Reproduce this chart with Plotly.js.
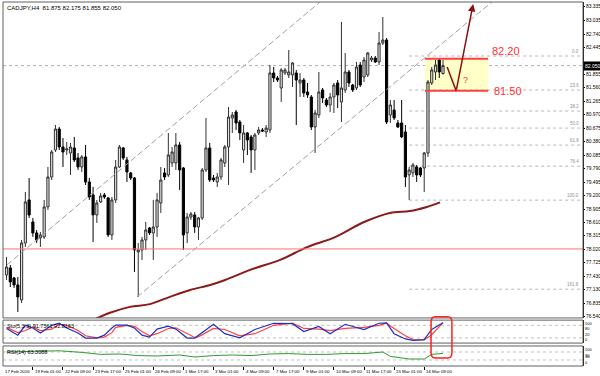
<!DOCTYPE html>
<html><head><meta charset="utf-8">
<script src="https://cdn.plot.ly/plotly-3.0.1.min.js"></script>
<style>html,body{margin:0;padding:0;background:#fff}#chart{width:600px;height:376px}</style>
</head><body><div id="chart"></div>
<script>
// ---- data ----
const openP = [77.460,77.613,77.394,77.241,76.912,78.161,79.104,78.622,78.381,78.271,
78.293,78.951,79.608,80.200,80.660,80.266,80.200,80.134,80.244,80.025,
79.827,80.047,79.499,79.214,78.775,79.060,79.214,79.148,78.337,79.104,
79.827,80.244,79.981,79.696,79.586,77.964,78.008,78.227,78.490,78.381,
78.512,79.038,79.696,79.652,79.915,79.915,80.310,79.805,78.381,78.731,
78.775,78.512,78.709,79.762,80.244,79.586,79.499,79.608,79.915,80.266,
80.901,81.033,80.814,80.200,80.573,80.485,80.200,80.573,80.638,80.594,
80.638,81.888,81.778,81.559,81.888,81.844,81.844,81.888,81.669,81.734,
81.471,81.362,80.704,80.967,81.515,81.296,81.186,81.362,81.669,81.252,
81.515,81.910,81.625,81.559,82.063,81.800,81.844,82.173,82.217,82.129,
82.545,82.611,80.967,81.077,80.792,80.792,80.594,79.652,79.696,79.827,
79.805,79.805,80.134,81.669,81.910,82.173,81.875];
const highP = [77.855,77.679,77.416,77.416,78.227,79.279,79.586,78.709,78.446,78.403,
79.104,79.827,80.200,80.748,80.704,80.463,80.375,80.353,80.485,80.134,
80.090,80.310,79.586,79.389,79.104,79.258,79.258,79.170,79.170,79.981,
80.310,80.266,80.047,79.718,79.608,78.161,78.293,78.622,78.512,79.104,
79.258,79.827,79.805,80.573,80.266,80.573,80.375,79.827,78.819,78.841,
78.841,78.731,79.805,80.901,80.353,79.652,79.696,80.025,80.310,81.142,
81.033,81.077,80.858,80.748,80.594,80.529,80.573,80.704,80.682,80.748,
82.063,82.019,81.822,81.997,81.997,82.392,82.129,81.954,81.888,81.778,
81.669,81.406,81.077,81.910,81.559,81.340,81.450,81.669,81.734,83.006,
82.326,81.954,81.647,82.129,82.129,82.239,82.348,82.260,82.260,82.787,
83.115,82.655,81.296,81.296,80.858,81.296,80.748,79.827,79.915,79.871,
79.827,80.156,81.734,82.019,82.173,82.217,82.175];
const lowP = [77.350,77.197,77.175,76.649,76.846,78.074,78.709,78.293,78.161,78.074,
78.249,78.885,79.542,80.156,80.200,79.827,80.090,79.652,79.937,79.762,
79.718,79.433,79.104,78.183,78.600,79.038,79.126,78.293,78.227,79.038,
79.805,79.981,79.499,79.542,77.526,76.978,77.789,78.008,78.337,77.789,
78.293,78.819,79.542,79.608,79.827,79.762,79.323,78.008,78.161,78.666,
78.381,78.227,78.666,79.718,79.499,79.499,79.389,79.542,79.827,79.433,
80.573,80.638,80.419,79.915,80.090,79.696,79.762,80.529,80.594,80.485,
80.573,81.691,81.691,81.252,81.844,81.778,81.581,80.748,81.362,81.362,
81.340,80.638,80.134,80.901,81.230,81.142,81.033,81.011,81.121,80.814,
81.450,81.581,81.471,81.515,81.581,81.691,81.800,82.129,82.107,82.063,
82.502,80.770,80.792,80.858,80.682,80.463,79.389,79.104,79.608,79.499,
79.608,79.279,80.047,81.625,81.734,81.778,81.855];
const closeP = [77.635,77.307,77.241,76.978,78.161,79.060,78.775,78.381,78.227,78.337,
78.951,79.608,80.156,80.660,80.266,80.156,80.222,80.266,79.981,79.827,
80.047,79.499,79.170,78.775,79.038,79.192,79.170,78.337,79.104,79.827,
80.266,80.025,79.718,79.586,78.008,78.008,78.227,78.446,78.381,78.512,
79.104,79.542,79.608,80.090,80.156,80.310,79.762,78.337,78.731,78.797,
78.512,78.709,79.762,80.244,79.542,79.542,79.608,79.981,80.266,80.923,
80.967,80.792,80.573,80.573,80.419,80.200,80.529,80.638,80.616,80.682,
81.888,81.778,81.734,81.954,81.954,81.910,82.107,81.734,81.734,81.450,
81.406,80.704,81.011,81.471,81.340,81.186,81.362,81.625,81.406,81.559,
81.910,81.669,81.515,82.019,81.625,82.173,82.326,82.217,82.129,82.545,
82.611,80.814,81.186,80.901,80.704,80.485,79.608,79.762,79.871,79.652,
79.652,80.134,81.691,81.954,82.063,81.910,82.050];
const barIdx = openP.map((_, i) => i);

const maIdx = [23,27.5,32.8,38.1,43.4,48.8,54.1,58.1,64.7,72.7,79.9,87.3,95,101.9,107.2,111.7,115.2];
const maVal = [76.47,76.63,76.76,76.82,76.98,77.13,77.24,77.35,77.57,77.79,78.07,78.29,78.62,78.82,78.86,78.95,79.05];

const stoIdx  = [0,3,5,7,9,12,14,16,19,21,24,26,28,29,32,34,36,38,40,43,45,48,50,51,55,58,62,66,71,76,79,83,86,90,95,99,101,103,106,108,111,113,116];
const stoMain = [65,33,80,67,43,80,90,67,43,19,19,33,67,81,81,67,33,24,62,76,62,19,19,33,85,40,20,60,90,88,50,75,40,85,60,90,92,40,15,8,12,60,92];
const stoSig  = [70,45,55,72,55,62,85,80,55,30,20,24,45,70,80,75,50,30,40,65,68,40,22,25,65,60,30,40,80,90,65,62,55,65,70,80,90,65,30,12,10,35,93];

const rsiIdx = [0,10,14,20,25,30,35,40,46,50,55,60,65,70,75,80,85,90,95,100,102,107,111,113,116];
const rsiVal = [70,72,76,68,58,60,52,50,55,45,52,55,52,60,62,58,58,62,62,70,48,35,35,58,63];

const priceTicks = [83.335,83.035,82.740,82.445,81.855,81.560,81.265,80.970,80.675,80.380,80.085,79.790,79.495,79.200,78.905,78.610,78.315,78.020,77.725,77.430,77.130,76.835,76.540];
const timeTickIdx = [-1,7,15,23,31,39,47,55,63,71,79,87,95,103,111];
const timeTickText = ['17 Feb 2016','19 Feb 01:00','22 Feb 09:00','23 Feb 17:00','25 Feb 01:00','26 Feb 09:00','1 Mar 17:00','3 Mar 01:00','4 Mar 09:00','7 Mar 17:00','9 Mar 01:00','10 Mar 09:00','11 Mar 17:00','15 Mar 01:00','16 Mar 09:00'];

const supportLevel = 78.03;
const lastPrice = 82.050;
const zoneTop = 82.20, zoneBottom = 81.50;
const zoneIdx = [111.2, 128.0];
const channelUpper = [[0.1, 77.68], [83.3, 83.444]];
const channelLower = [[34.7, 76.978], [129.0, 83.444]];
const arrowPath = [[117.1, 82.02], [119.5, 81.494], [124.0, 83.40]];

const fibLow = 79.10, fibHigh = 82.26, fibStartIdx = 107;
const fibRatios = [0, 23.6, 38.2, 50.0, 61.8, 76.4, 100.0, 161.8];

const stoScale = [100, 80, 20, 0];
const rsiScale = [100, 70, 30, 0];

const headerText = 'CADJPY,H4  81.875 82.175 81.855 82.050';
const stoText = 'Sto(5,3,3) 91.7561 92.8163';
const rsiText = 'RSI(14) 63.3088';

// ---- traces ----
const FONT = 'Liberation Sans, Arial, sans-serif';
const traces = [
  {type:'candlestick', x:barIdx, open:openP, high:highP, low:lowP, close:closeP,
   xaxis:'x', yaxis:'y', whiskerwidth:0, hoverinfo:'skip',
   increasing:{line:{color:'#303030', width:1}, fillcolor:'#e4e4e4'},
   decreasing:{line:{color:'#000', width:1}, fillcolor:'#000'}},
  {type:'scatter', mode:'lines', x:maIdx, y:maVal, xaxis:'x', yaxis:'y',
   line:{color:'#8b1a1a', width:2, shape:'spline'}, hoverinfo:'skip'},
  {type:'scatter', mode:'lines', x:stoIdx, y:stoSig, xaxis:'x', yaxis:'y2',
   line:{color:'#ff4040', width:1.2}, hoverinfo:'skip'},
  {type:'scatter', mode:'lines', x:stoIdx, y:stoMain, xaxis:'x', yaxis:'y2',
   line:{color:'#2030c0', width:1.2}, hoverinfo:'skip'},
  {type:'scatter', mode:'lines', x:rsiIdx, y:rsiVal, xaxis:'x', yaxis:'y3',
   line:{color:'#2e9a2e', width:1}, hoverinfo:'skip'}
];

const mainDom = [0.132, 1], stoDom = [0.063, 0.126], rsiDom = [0, 0.055];

const shapes = [
  {type:'rect', xref:'x', yref:'y', x0:zoneIdx[0], x1:zoneIdx[1], y0:zoneBottom, y1:zoneTop,
   fillcolor:'#ffffc8', line:{width:0}, layer:'below'},
  {type:'line', xref:'x', yref:'y', x0:zoneIdx[0], x1:zoneIdx[1], y0:zoneTop, y1:zoneTop, line:{color:'#ff4040', width:2}},
  {type:'line', xref:'x', yref:'y', x0:zoneIdx[0], x1:zoneIdx[1], y0:zoneBottom, y1:zoneBottom, line:{color:'#ff4040', width:2}},
  {type:'line', xref:'paper', yref:'y', x0:0, x1:1, y0:supportLevel, y1:supportLevel, line:{color:'#ff7070', width:1}},
  {type:'line', xref:'paper', yref:'y', x0:0, x1:1, y0:lastPrice, y1:lastPrice, line:{color:'#b0b0b0', width:1, dash:'dot'}, layer:'below'},
  {type:'line', xref:'x', yref:'y', x0:channelUpper[0][0], y0:channelUpper[0][1], x1:channelUpper[1][0], y1:channelUpper[1][1], line:{color:'#a0a0a0', width:1, dash:'6px,3px'}},
  {type:'line', xref:'x', yref:'y', x0:channelLower[0][0], y0:channelLower[0][1], x1:channelLower[1][0], y1:channelLower[1][1], line:{color:'#a0a0a0', width:1, dash:'6px,3px'}},
  {type:'line', xref:'x', yref:'y', x0:arrowPath[0][0], y0:arrowPath[0][1], x1:arrowPath[1][0], y1:arrowPath[1][1], line:{color:'#8b1010', width:1.5}},
  {type:'rect', xref:'paper', yref:'paper', x0:0, x1:1, y0:mainDom[0], y1:mainDom[1], line:{color:'#606060', width:1}},
  {type:'rect', xref:'paper', yref:'paper', x0:0, x1:1, y0:stoDom[0], y1:stoDom[1], line:{color:'#606060', width:1}},
  {type:'rect', xref:'paper', yref:'paper', x0:0, x1:1, y0:rsiDom[0], y1:rsiDom[1], line:{color:'#606060', width:1}},
  {type:'path', xref:'paper', yref:'paper', path:'M 0.745 0.135 L 0.767 0.135 Q 0.774 0.135 0.774 0.12 L 0.774 0.037 Q 0.774 0.022 0.767 0.022 L 0.745 0.022 Q 0.738 0.022 0.738 0.037 L 0.738 0.12 Q 0.738 0.135 0.745 0.135 Z',
   line:{color:'#ff2020', width:1.5}}
];
[[20,'y2'],[80,'y2'],[30,'y3'],[70,'y3']].forEach(([v, ax]) => shapes.push({type:'line', xref:'paper', yref:ax, x0:0, x1:1, y0:v, y1:v, line:{color:'#c0c0c0', width:1, dash:'dot'}, layer:'below'}));

const annotations = [
  {xref:'paper', yref:'paper', x:0.004, y:0.997, xanchor:'left', yanchor:'top', text:headerText, showarrow:false, font:{family:FONT, size:6, color:'#000'}},
  {xref:'paper', yref:'paper', x:0.004, y:stoDom[1]-0.003, xanchor:'left', yanchor:'top', text:stoText, showarrow:false, font:{family:FONT, size:5.5, color:'#000'}},
  {xref:'paper', yref:'paper', x:0.004, y:rsiDom[1]-0.003, xanchor:'left', yanchor:'top', text:rsiText, showarrow:false, font:{family:FONT, size:5.5, color:'#000'}},
  {xref:'x', yref:'y', x:zoneIdx[1]+0.5, y:zoneTop, xanchor:'left', yanchor:'bottom', text:'82.20', showarrow:false, font:{family:FONT, size:11, color:'#ff3030'}},
  {xref:'x', yref:'y', x:zoneIdx[1]+1, y:zoneBottom, xanchor:'left', yanchor:'middle', text:'81.50', showarrow:false, font:{family:FONT, size:11, color:'#ff3030'}},
  {xref:'x', yref:'y', x:arrowPath[2][0], y:arrowPath[2][1], ax:arrowPath[1][0], ay:arrowPath[1][1], axref:'x', ayref:'y',
   showarrow:true, arrowhead:2, arrowsize:1, arrowwidth:1.5, arrowcolor:'#8b1010', text:''},
  {xref:'x', yref:'y', x:121.9, y:81.73, text:'?', showarrow:false, font:{family:FONT, size:9, color:'#ff3030'}},
  {xref:'paper', yref:'y', x:1, y:lastPrice, xanchor:'left', yanchor:'middle', text:'82.050', showarrow:false,
   bgcolor:'#000', font:{family:FONT, size:5, color:'#fff'}, borderpad:1}
];
priceTicks.forEach(v => annotations.push({xref:'paper', yref:'y', x:1, xshift:1, y:v, xanchor:'left', yanchor:'middle',
  text:v.toFixed(3), showarrow:false, font:{family:FONT, size:4.9, color:'#000'}}));
fibRatios.forEach(r => {
  const lvl = fibHigh - (fibHigh - fibLow) * r / 100;
  shapes.push({type:'line', xref:'x', yref:'y', x0:fibStartIdx, x1:153.2, y0:lvl, y1:lvl, line:{color:'#b8b8b8', width:1, dash:'dot'}, layer:'below'});
  annotations.push({xref:'paper', yref:'y', x:0.997, y:lvl, xanchor:'right', yanchor:'bottom', text:r.toFixed(1), showarrow:false,
    font:{family:FONT, size:4.5, color:'#909090'}});
});
const stoLabelY = [[stoScale[0],'top',104.8],[stoScale[1],'top',80],[stoScale[2],'bottom',20],[stoScale[3],'bottom',-4.8]];
stoLabelY.forEach(([t, anc, y]) => annotations.push({xref:'paper', yref:'y2', x:1, xshift:1, y:y, xanchor:'left', yanchor:anc,
  text:String(t), showarrow:false, font:{family:FONT, size:4, color:'#000'}, borderpad:0}));
const rsiLabelY = [[rsiScale[0],'top',100],[rsiScale[1],'top',70],[rsiScale[2],'bottom',30],[rsiScale[3],'bottom',0]];
rsiLabelY.forEach(([t, anc, y]) => annotations.push({xref:'paper', yref:'y3', x:1, xshift:1, y:y, xanchor:'left', yanchor:anc,
  text:String(t), showarrow:false, font:{family:FONT, size:4, color:'#000'}, borderpad:0}));
timeTickIdx.forEach((t, k) => annotations.push({xref:'paper', yref:'paper', x:(t + 0.94) / 154.14, y:0, yshift:-1, xanchor:'left', yanchor:'top',
  text:timeTickText[k], showarrow:false, font:{family:FONT, size:4.4, color:'#000'}}));

const layout = {
  width:600, height:376, margin:{l:3, r:17, t:2, b:10},
  paper_bgcolor:'#fff', plot_bgcolor:'#fff', showlegend:false, boxgap:0.18,
  xaxis:{range:[-0.94,153.2], anchor:'y3', showgrid:false, zeroline:false, showline:false,
    tickvals:timeTickIdx, ticks:'outside', ticklen:3, tickcolor:'#000', showticklabels:false,
    rangeslider:{visible:false}, fixedrange:true},
  yaxis:{domain:mainDom, range:[76.517,83.444], side:'right', showgrid:false, zeroline:false,
    showline:true, linecolor:'#000', ticks:'outside', ticklen:1, tickcolor:'#000',
    tickvals:priceTicks, showticklabels:false, fixedrange:true},
  yaxis2:{domain:stoDom, range:[-4.8,104.8], side:'right', showgrid:false, zeroline:false,
    showline:true, linecolor:'#000', showticklabels:false, fixedrange:true},
  yaxis3:{domain:rsiDom, range:[0,100], side:'right', showgrid:false, zeroline:false,
    showline:true, linecolor:'#000', showticklabels:false, fixedrange:true},
  shapes:shapes, annotations:annotations
};

Plotly.newPlot('chart', traces, layout, {staticPlot:true, displayModeBar:false});
</script></body></html>
